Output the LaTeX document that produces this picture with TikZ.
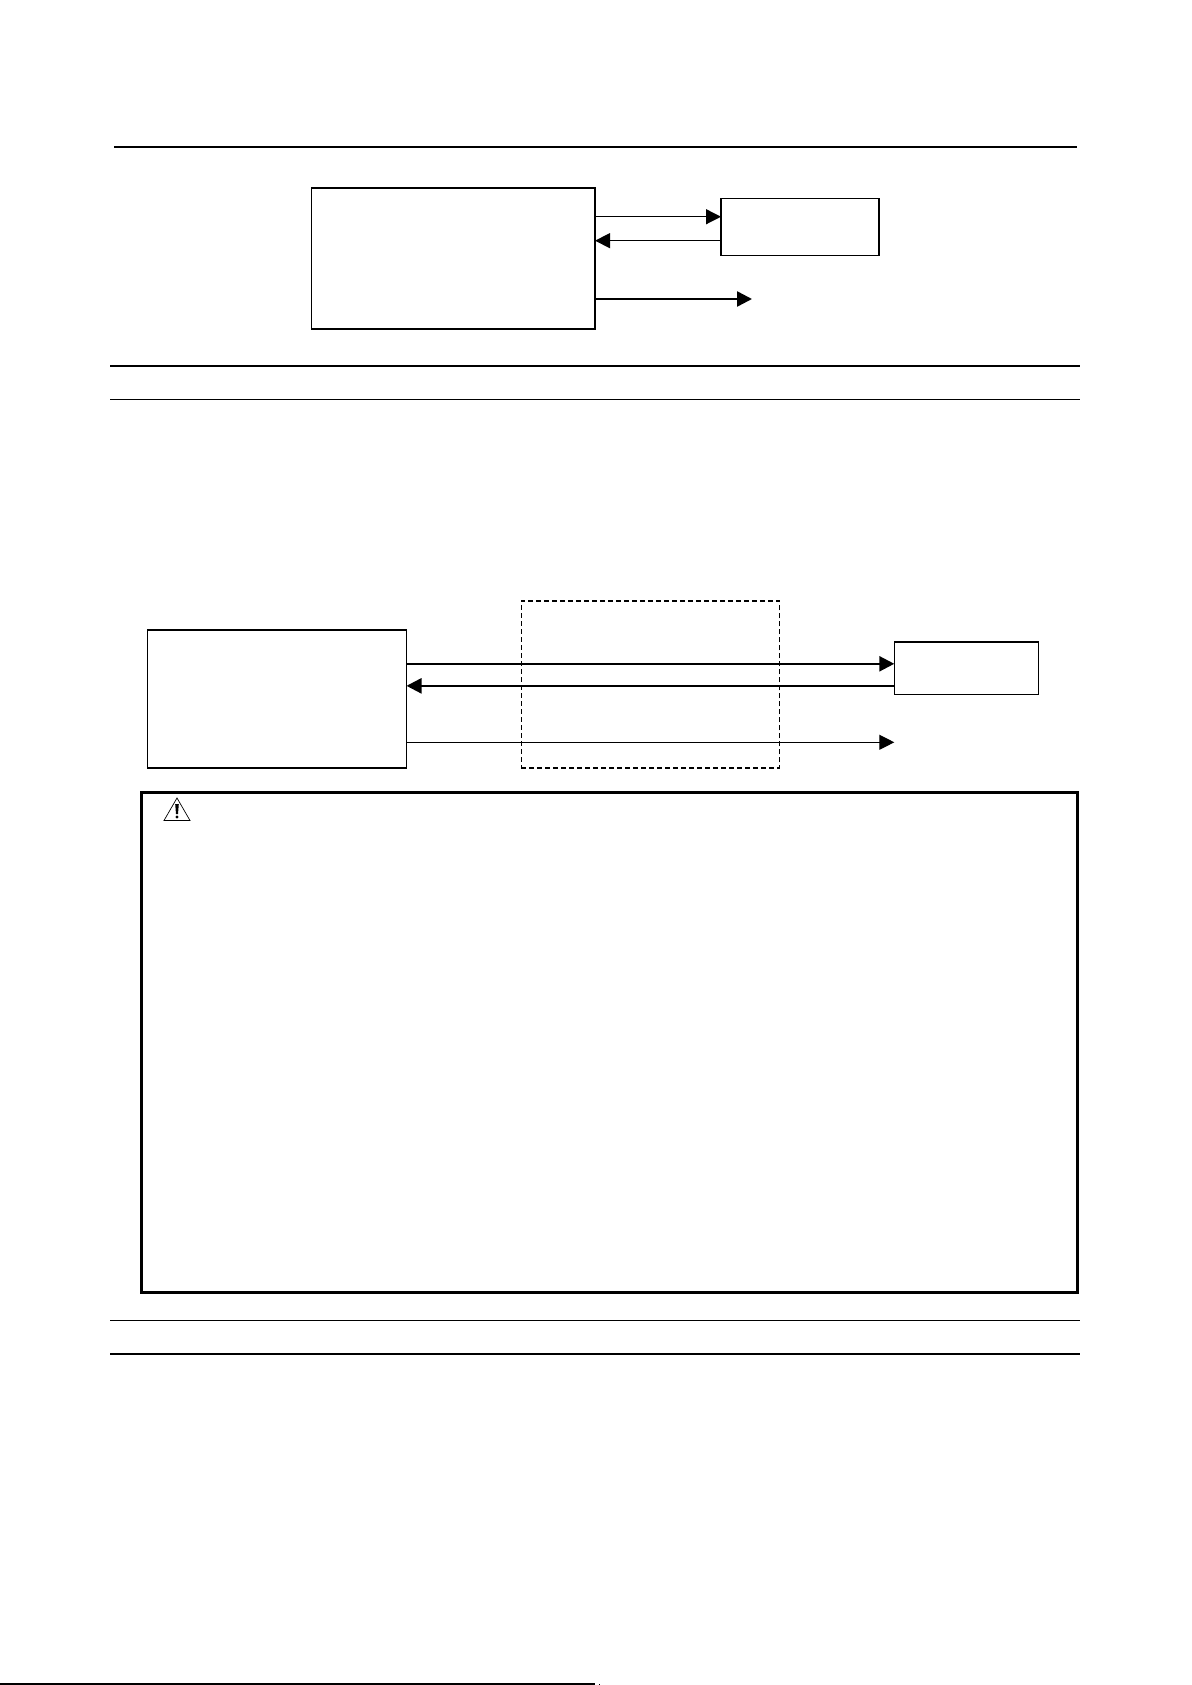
\documentclass[tikz,border=0pt]{standalone}
\usetikzlibrary{positioning,arrows.meta,calc}
\tikzset{
	sheet/.style={x=1pt,y=-1pt,>={Triangle[length=15pt,width=15pt]},line cap=butt},
	unit/.style={rectangle,draw,line width=1.5pt,outer sep=0pt,inner sep=0pt},
	zone/.style={rectangle,draw,dash pattern=on 5pt off 3pt,line width=1.6pt,outer sep=0pt,inner sep=0pt},
	notice/.style={rectangle,draw,line width=3pt,outer sep=0pt,inner sep=0pt},
	thinlink/.style={->,line width=1.2pt},
	thicklink/.style={->,line width=2.4pt},
	rule thin/.style={line width=1.2pt},
	rule thick/.style={line width=2.2pt}
}
\begin{document}
\begin{tikzpicture}[sheet]
	\useasboundingbox (0,0) rectangle (1191,1685);

	% top panel
	\node[unit, minimum width=283.5pt, minimum height=141pt] (host) at (453.25,258.5) {};
	\node[unit, line width=1.2pt, minimum width=158pt, minimum height=57pt] (dev) [right=126pt of host.east, anchor=west, yshift=31.5pt] {};
	\coordinate (devin) at ($(dev.north west)!0.32!(dev.south west)$);
	\coordinate (devout) at ($(dev.north west)!0.74!(dev.south west)$);
	\coordinate (hostout) at (752,299);

	\path[thinlink] (host.east |- devin) edge (devin);
	\path[thinlink] (devout) edge (host.east |- devout);
	\path[thicklink] (host.east |- hostout) edge (hostout);

	% lower panel
	\node[unit, minimum width=259pt, minimum height=138pt] (ctrl) at (277,699) {};
	\node[unit, minimum width=144pt, minimum height=52.5pt] (rem) at (966.3,668) {};
	\node[zone, minimum width=258pt, minimum height=167.5pt] (link) at (650.3,684.5) {};
	\coordinate (remin) at ($(rem.north west)!0.42!(rem.south west)$);
	\coordinate (remout) at ($(rem.north west)!0.84!(rem.south west)$);
	\coordinate (ctrlout) at (rem.west |- 0,742.3);

	\path[thicklink] (ctrl.east |- remin) edge (remin);
	\path[thicklink] (remout) edge (ctrl.east |- remout);
	\path[thinlink] (ctrl.east |- ctrlout) edge (ctrlout);

	% warning box
	\node[notice, minimum width=936pt, minimum height=500pt] (warn) at (609.5,1042) {};
	\draw[line width=0.7pt, line join=miter] (177,798) -- (190,820.5) -- (164,820.5) -- cycle;
	\fill (175.2,804) -- (178.8,804) -- (178,814) -- (176,814) -- cycle;
	\fill (177,817) circle (1.7pt);

	% rules
	\draw[rule thick] (114,147) -- (1077,147);
	\draw[rule thick] (110,366) -- (1079.5,366);
	\draw[rule thin] (110,399.5) -- (1079.5,399.5);
	\draw[rule thin] (110,1320.5) -- (1079.5,1320.5);
	\draw[rule thick] (110,1354) -- (1079.5,1354);
	\draw[rule thin] (0,1684) -- (594.5,1684);
	\fill (599,1683.5) rectangle (600,1684.5);
\end{tikzpicture}
\end{document}
